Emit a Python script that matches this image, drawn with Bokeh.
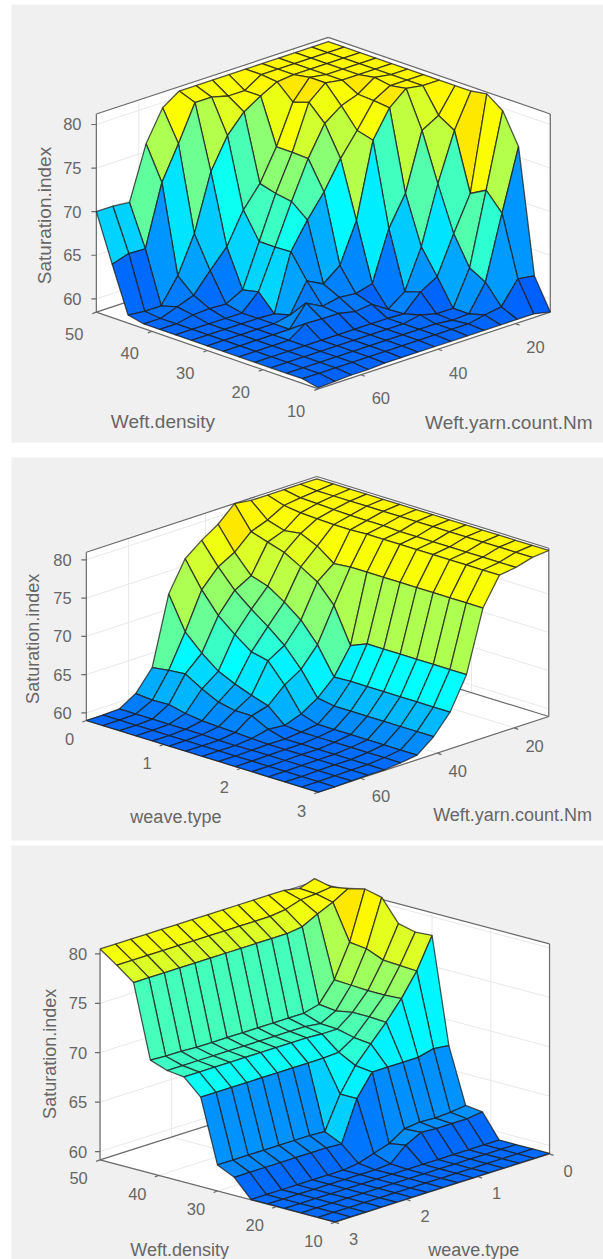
import numpy as np
from bokeh.plotting import figure
from bokeh.models import Range1d, ColumnDataSource
from bokeh.core.properties import value
from bokeh.embed import file_html
from bokeh.resources import INLINE

# ---- data: surface heights, rows run along the first input from its front end to its far end
Z1 = [
 [58.6,58.7,58.8,58.8,58.9,58.9,58.9,58.9,58.9,58.9,58.9,58.9,58.9,58.9,58.5],
 [59,59,59,59,59,59,59,59,59,59,59,59.4,59.7,62.3,62],
 [59,59,59,59,59,59,59,59,59,59,58.8,58.9,61.9,69.2,76.2],
 [59,59,59,59,59,59,59,59,59,59.4,58.9,58.9,62.9,71.2,79.7],
 [59,59,59,59,59,59,59,59,59,58.9,60.8,61.9,66.2,70.2,81],
 [59,59,59,59,60.3,60.2,60.2,59.8,60,58.8,60.2,64.7,71.3,76.8,80.7],
 [59,59,59,59,59,61.4,60.4,60.8,60.6,61.1,66.8,70.2,76.8,77.9,80.7],
 [59,59,59,59,59,59.4,62.7,61.7,63.2,67.7,76.3,79.4,81,80.7,80.7],
 [59,59,59,59,59,58.9,65.4,68.4,71,74.2,76.8,79.6,80.7,80.7,80.7],
 [59,59,59,59,59,60.8,65.3,69.9,74.2,77.6,79,79.7,81,80.7,80.7],
 [59,59,59.4,59.5,59.4,60.4,65.3,70.2,74.3,79.4,81,80.7,80.7,80.7,80.7],
 [59,59,59.7,60.4,62.6,64.7,68.3,70.7,74.3,78.8,81,80.7,80.7,80.7,80.7],
 [59.4,59.2,59.2,62,66.2,72.7,76.2,78.3,79.5,80.5,80.7,80.7,80.7,80.7,80.7],
 [64.6,65.2,65.1,72.1,75.9,80,80,79.5,79.5,80.7,80.7,80.7,80.7,80.7,80.7],
 [70,70,69.8,75.9,79.4,80.7,80.7,80.7,80.7,80.7,80.7,80.7,80.7,80.7,80.7],
]
FLAT2 = [59,59,59.05,59.1,59.1,59.3,59.6,61.3,63.8,68,76,79.6,79.9,80.5,80.7]
Z2 = [
 FLAT2, FLAT2, FLAT2, FLAT2, FLAT2, FLAT2, FLAT2,
 [59,59,59,59.2,59.7,59.5,60.3,61.66,63.7,67.1,76,79.6,79.9,80.5,80.7],
 [59,59,59,59.3,60.8,61.4,63.4,64.75,67.25,71.7,76,79.6,80,80.5,80.7],
 [59,59,59.1,59.4,60.8,62.1,65.9,67.2,69.8,74.1,75.8,79.5,80,80.5,80.7],
 [59,59,59.1,59.5,61.25,62.9,66.4,69,71.5,75.4,77.4,79.5,80,80.5,80.7],
 [59,59,59.1,59.8,62.3,63.9,68,70.6,72.9,76.6,78.4,79.6,80.1,80.5,80.7],
 [59,59,59.1,60.3,63.6,65.6,69.8,72.4,73.6,77.3,78.1,79.7,80.2,80.5,80.7],
 [59,59,59.1,60.2,63.4,67.7,72.5,74.8,76,78,78.8,80,80.3,80.5,80.7],
 [59,59,59.1,60.4,63.1,72,75.9,77.6,79,81,80.7,80.7,80.7,80.7,80.7],
]
FLOOR3 = [59.2]*15
Z3 = [
 FLOOR3, FLOOR3, FLOOR3, FLOOR3,
 [59.2,59.2,59.2,59.2,59.2,59.2,59.2,59.2,59.3,60.7,61.5,61.4,61.4,61.4,61.6],
 [59.2,59.2,59.2,59.2,59.2,59.2,59.2,59.4,59.9,60.4,61.4,61.6,61.5,61.6,61.8],
 [61,61,61,61,61,61,61,60.9,65,67.2,67.2,67.2,67.2,67.6,67.4],
 [61.8,61.8,61.8,61.8,61.8,61.8,61.8,61.7,65,67.4,69.1,70.8,72.7,75,78.1],
 [68.2,68.2,68.2,68.2,68.2,68.2,68.2,68.2,68.2,68.3,69.3,70.9,72.6,75.1,78],
 [69.8,69.8,69.8,69.8,69.8,69.8,69.8,69.8,69.8,69.7,69.7,70.9,72.6,75.2,78.4],
 [70,70,70,70,70,70,70,70,70,70,69.8,70.6,72.7,75.9,80.6],
 [70.6,70.5,70.5,70.4,70.4,70.4,70.4,70.4,70.4,70.4,70.4,70.8,72.8,76.1,81],
 [78,78,78,78,78,78,78,78,78,78,78,78.2,79,79.7,80.6],
 [79.3,79.3,79.3,79.3,79.3,79.3,79.3,79.3,79.3,79.3,79.3,79.5,80,80.1,80.3],
 [80.5,80.5,80.5,80.5,80.5,80.5,80.5,80.5,80.5,80.5,80.5,80.5,80.5,80.2,80.7],
]
Z_TICKS = [60, 65, 70, 75, 80]
DENSITY_TICKS = [10, 20, 30, 40, 50]
COUNT_TICKS = [20, 40, 60]
WEAVE_TICKS = [0, 1, 2, 3]
Y_LABEL = "Saturation.index"
DENSITY_LABEL = "Weft.density"
COUNT_LABEL = "Weft.yarn.count.Nm"
WEAVE_LABEL = "weave.type"

# colour scale of the surface
CMAP_Z = [58.5, 60, 62, 64, 66, 68, 69, 70, 72, 74, 76, 78, 79.5, 80.7, 81]
CMAP_R = [0, 0, 0, 0, 0, 0, 42, 62, 95, 135, 175, 220, 250, 255, 255]
CMAP_G = [95, 120, 150, 190, 225, 255, 255, 255, 255, 255, 255, 255, 255, 248, 232]
CMAP_B = [255, 255, 255, 255, 255, 255, 215, 195, 160, 120, 80, 40, 5, 0, 0]


def colour(z):
    r, g, b = (int(np.interp(z, CMAP_Z, c)) for c in (CMAP_R, CMAP_G, CMAP_B))
    return f"#{r:02x}{g:02x}{b:02x}"


W, H = 603, 1259
p = figure(width=W, height=H, x_range=Range1d(0, 603), y_range=Range1d(1259, 0),
           output_backend="svg", toolbar_location=None, min_border=0,
           x_axis_type=None, y_axis_type=None)
p.outline_line_color = None
p.grid.visible = False
p.background_fill_color = "white"
p.border_fill_color = "white"

p.quad(left=[11, 11, 11], right=[603, 603, 603], top=[4, 457, 845], bottom=[442, 840, 1259],
       fill_color="#f0f0f0", line_color=None)

FONT = "Liberation Sans"
TXT = "#666666"
SX, SY = 2.703, 3.0


def draw_panel(Z, ox, oy, F, L, R, zpx, zlo, zhi, xr, yr, xticks, yticks,
               xoff, yoff, zoff, xlab, xlabpos, ylab, ylabpos, zlabpos, color_i_min, labsize):
    """F, L, R: floor corners; offsets and label places in the panel's own zoomed frame."""
    F, L, R = map(np.array, (F, L, R))

    def proj(u, v, z):
        P = F + u * (L - F) + v * (R - F)
        return ox + P[0] / SX, oy + (P[1] - (z - zlo) * zpx) / SY

    def seg(a, b):
        return [a[0], b[0]], [a[1], b[1]]

    tu = lambda val: (val - xr[0]) / (xr[1] - xr[0])
    tv = lambda val: (val - yr[0]) / (yr[1] - yr[0])

    # walls and floor
    wall = [proj(0, 0, zlo), proj(1, 0, zlo), proj(1, 0, zhi), proj(1, 1, zhi), proj(0, 1, zhi),
            proj(0, 1, zlo)]
    p.patch([w[0] for w in wall], [w[1] for w in wall], fill_color="white", line_color=None)

    gx, gy = [], []
    for zt in Z_TICKS:
        for a, b in ((proj(1, 0, zt), proj(1, 1, zt)), (proj(1, 1, zt), proj(0, 1, zt))):
            sx, sy = seg(a, b); gx.append(sx); gy.append(sy)
    for xt in xticks:
        u = tu(xt)
        for a, b in ((proj(u, 1, zlo), proj(u, 1, zhi)), (proj(u, 0, zlo), proj(u, 1, zlo))):
            sx, sy = seg(a, b); gx.append(sx); gy.append(sy)
    for yt in yticks:
        v = tv(yt)
        for a, b in ((proj(1, v, zlo), proj(1, v, zhi)), (proj(0, v, zlo), proj(1, v, zlo))):
            sx, sy = seg(a, b); gx.append(sx); gy.append(sy)
    p.multi_line(gx, gy, line_color="#e8e8e8", line_width=1)

    bx, by = [], []
    for a, b in ((proj(0, 0, zlo), proj(1, 0, zlo)), (proj(0, 0, zlo), proj(0, 1, zlo)),
                 (proj(1, 0, zlo), proj(1, 1, zlo)), (proj(0, 1, zlo), proj(1, 1, zlo)),
                 (proj(1, 0, zlo), proj(1, 0, zhi)), (proj(0, 1, zlo), proj(0, 1, zhi)),
                 (proj(1, 0, zhi), proj(1, 1, zhi)), (proj(1, 1, zhi), proj(0, 1, zhi))):
        sx, sy = seg(a, b); bx.append(sx); by.append(sy)
    for zt in Z_TICKS:
        a = proj(1, 0, zt)
        sx, sy = seg(a, (a[0] - 5, a[1])); bx.append(sx); by.append(sy)
    for xt in xticks:
        a = proj(tu(xt), 0, zlo)
        sx, sy = seg(a, (a[0] - 4, a[1] + 1.5)); bx.append(sx); by.append(sy)
    for yt in yticks:
        a = proj(0, tv(yt), zlo)
        sx, sy = seg(a, (a[0] + 4, a[1] + 1.5)); bx.append(sx); by.append(sy)
    p.multi_line(bx, by, line_color="#6a6a6a", line_width=1.2)

    # the surface, back to front
    Za = np.array(Z, dtype=float)
    n = Za.shape[0] - 1
    cells = sorted(((i, j) for i in range(n) for j in range(n)), key=lambda c: -(c[0] + c[1]))
    xs, ys, cs = [], [], []
    for i, j in cells:
        corners = [(i, j), (i + 1, j), (i + 1, j + 1), (i, j + 1)]
        pts = [proj(a / n, b / n, Za[a, b]) for a, b in corners]
        xs.append([q[0] for q in pts])
        ys.append([q[1] for q in pts])
        cs.append(colour(Za[i if color_i_min else i + 1, j + 1]))
    p.patches("xs", "ys", source=ColumnDataSource(dict(xs=xs, ys=ys, c=cs)), fill_color="c",
              line_color="#1c1c1c", line_width=1.3, line_alpha=0.75)

    def label(x, y, t, align="center", angle=0.0, size="16.5px"):
        p.text([x], [y], text=[t], text_font=value(FONT), text_font_size=size, text_color=TXT,
               text_align=align, text_baseline="middle", angle=angle)

    for zt in Z_TICKS:
        a = proj(1, 0, zt)
        label(a[0] + zoff / SX, a[1], str(zt), align="right")
    for xt in xticks:
        a = proj(tu(xt), 0, zlo)
        label(a[0] + xoff[0] / SX, a[1] + xoff[1] / SY, str(xt))
    for yt in yticks:
        a = proj(0, tv(yt), zlo)
        label(a[0] + yoff[0] / SX, a[1] + yoff[1] / SY, str(yt))
    label(ox + xlabpos[0] / SX, oy + xlabpos[1] / SY, xlab, size=labsize)
    label(ox + ylabpos[0] / SX, oy + ylabpos[1] / SY, ylab, size=labsize)
    label(ox + zlabpos[0] / SX, oy + zlabpos[1] / SY, Y_LABEL, angle=np.pi / 2, size=labsize)


draw_panel(Z1, 20, 20, (805, 1105), (205, 875), (1432, 875), 26.15, 58.47, 81.2,
           (10, 50), (71, 11), DENSITY_TICKS, COUNT_TICKS, (-60, 66), (54, 70), -40,
           DENSITY_LABEL, (385, 1202), COUNT_LABEL, (1320, 1205), (65, 585), True, "19px")
draw_panel(Z2, 20, 470, (805, 965), (178, 750), (1428, 738), 22.95, 59.0, 81.0,
           (3, 0), (71, 11), WEAVE_TICKS, COUNT_TICKS, (-45, 55), (55, 53), -40,
           WEAVE_LABEL, (420, 1040), COUNT_LABEL, (1330, 1032), (35, 505), False, "18px")
draw_panel(Z3, 20, 870, (850, 1055), (215, 868), (1430, 850), 29.65, 59.16, 80.4,
           (10, 50), (3, 0), DENSITY_TICKS, WEAVE_TICKS, (-58, 55), (50, 50), -35,
           DENSITY_LABEL, (430, 1137), WEAVE_LABEL, (1225, 1137), (80, 550), True, "18px")

open("out.html", "w").write(file_html(p, INLINE))
